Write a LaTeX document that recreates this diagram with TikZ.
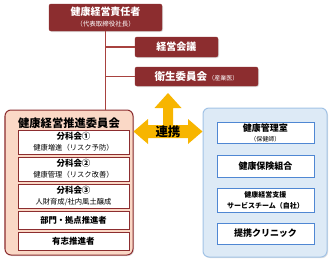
\documentclass[tikz,border=0pt]{standalone}
\usepackage{fontspec}
\setmainfont{Noto Sans CJK JP}
\usepackage{tikz}
\usepackage{xcolor}
\usetikzlibrary{shadows}
\definecolor{rojoOsc}{HTML}{8C2D2F}
\definecolor{rojoLinea}{HTML}{A8423F}
\definecolor{durazno}{HTML}{FAD8C6}
\definecolor{azulFondo}{HTML}{DDEAF6}
\definecolor{azulBorde}{HTML}{A2C3E6}
\definecolor{azulCaja}{HTML}{4F87D3}
\definecolor{amarillo}{HTML}{F7B500}
\newcommand{\Letra}[2]{{\fontsize{#1}{#1}\selectfont #2}}
\tikzset{
  sombra/.style={drop shadow={opacity=0.25,shadow xshift=1pt,shadow yshift=-1pt}},
  renglon/.style={font=\fontsize{8pt}{#1}\selectfont},
  renglon/.default=11pt,
  cajaRoja/.style={fill=rojoOsc,draw=rojoOsc,rounded corners=2pt,text=white,
    inner sep=0pt,align=center,renglon,sombra},
  contRojo/.style={fill=durazno,draw=rojoOsc,line width=1pt,rounded corners=6pt,
    inner sep=0pt,sombra},
  cajaBlancaR/.style={fill=white,draw=rojoOsc,line width=0.9pt,inner sep=0pt,
    align=center,renglon},
  contAzul/.style={fill=azulFondo,draw=azulBorde,line width=1pt,rounded corners=6pt,
    inner sep=0pt,sombra},
  cajaBlancaA/.style={fill=white,draw=azulCaja,line width=0.9pt,inner sep=0pt,
    align=center,renglon},
  rama/.style={draw=rojoLinea,line width=1.6pt}
}

\begin{document}
\begin{tikzpicture}[x=1pt,y=-1pt]
  \useasboundingbox (0,0) rectangle (333,263);

  % direccion
  \node[cajaRoja,minimum width=113pt,minimum height=27pt] (resp) at (105.5,17.5)
    {\Letra{10pt}{\bfseries 健康経営責任者}\\\Letra{6.5pt}{（代表取締役社長）}};
  \node[cajaRoja,minimum width=83pt,minimum height=20pt] (kaigi) at (176.5,47)
    {\Letra{10pt}{\bfseries 経営会議}};
  \node[cajaRoja,minimum width=123pt,minimum height=19pt] (eisei) at (196.5,76.5)
    {\Letra{10.5pt}{\bfseries 衛生委員会}\,\Letra{6pt}{（産業医）}};

  % contenedores
  \node[contRojo,minimum width=128pt,minimum height=145pt] (suishin) at (69,182.5) {};
  \node[contAzul,minimum width=124pt,minimum height=149pt] (renkei) at (265,182.5) {};

  % conexiones
  \draw[rama] (resp.south) -- (resp.south |- suishin.north);
  \draw[rama] (resp.south |- kaigi.west) -- (kaigi.west);
  \draw[rama] (resp.south |- eisei.west) -- (eisei.west);

  % lado izquierdo
  \node[anchor=north] (titulo) at (69,114) {\Letra{11.3pt}{\bfseries 健康経営推進委員会}};
  \node[cajaBlancaR,minimum width=111pt,minimum height=24pt] (bunka1) at (73.5,142)
    {\Letra{8.5pt}{\bfseries 分科会①}\\\Letra{7.3pt}{健康増進（リスク予防）}};
  \node[cajaBlancaR,minimum width=111pt,minimum height=24pt] (bunka2) at (73.5,169)
    {\Letra{8.5pt}{\bfseries 分科会②}\\\Letra{7.3pt}{健康管理（リスク改善）}};
  \node[cajaBlancaR,minimum width=111pt,minimum height=24pt] (bunka3) at (73.5,196)
    {\Letra{8.5pt}{\bfseries 分科会③}\\\Letra{7.3pt}{人財育成/社内風土醸成}};
  \node[cajaBlancaR,minimum width=111pt,minimum height=18pt] (bumon) at (73.5,220)
    {\Letra{8.3pt}{\bfseries 部門・拠点推進者}};
  \node[cajaBlancaR,minimum width=111pt,minimum height=18pt] (yushi) at (73.5,241)
    {\Letra{8.5pt}{\bfseries 有志推進者}};

  % lado derecho
  \node[cajaBlancaA,renglon=10pt,minimum width=97pt,minimum height=21pt] (kanri) at (265.5,132.5)
    {\Letra{9pt}{\bfseries 健康管理室}\\\Letra{6pt}{（保健師）}};
  \node[cajaBlancaA,minimum width=97pt,minimum height=22pt] (kumiai) at (265.5,166)
    {\Letra{9pt}{\bfseries 健康保険組合}};
  \node[cajaBlancaA,minimum width=97pt,minimum height=24pt] (shien) at (265.5,200)
    {\Letra{7pt}{\bfseries 健康経営支援}\\\Letra{7pt}{\bfseries サービスチーム（自社）}};
  \node[cajaBlancaA,minimum width=97pt,minimum height=21pt] (clinica) at (265.5,233.5)
    {\Letra{9pt}{\bfseries 提携クリニック}};

  % flecha de tres puntas
  \fill[amarillo] (suishin.east |- 0,131.5) -- (148,119) -- (148,125) -- (163,125)
    -- (163,108) -- (154.5,108) -- (168,93) -- (181.5,108) -- (173,108) -- (173,125)
    -- (188,125) -- (188,119) -- (renkei.west |- 0,131.5) -- (188,144) -- (188,138)
    -- (148,138) -- (148,144) -- cycle;
  \node (flecha) at (168,131.5) {\Letra{12.5pt}{\bfseries 連携}};
\end{tikzpicture}
\end{document}
